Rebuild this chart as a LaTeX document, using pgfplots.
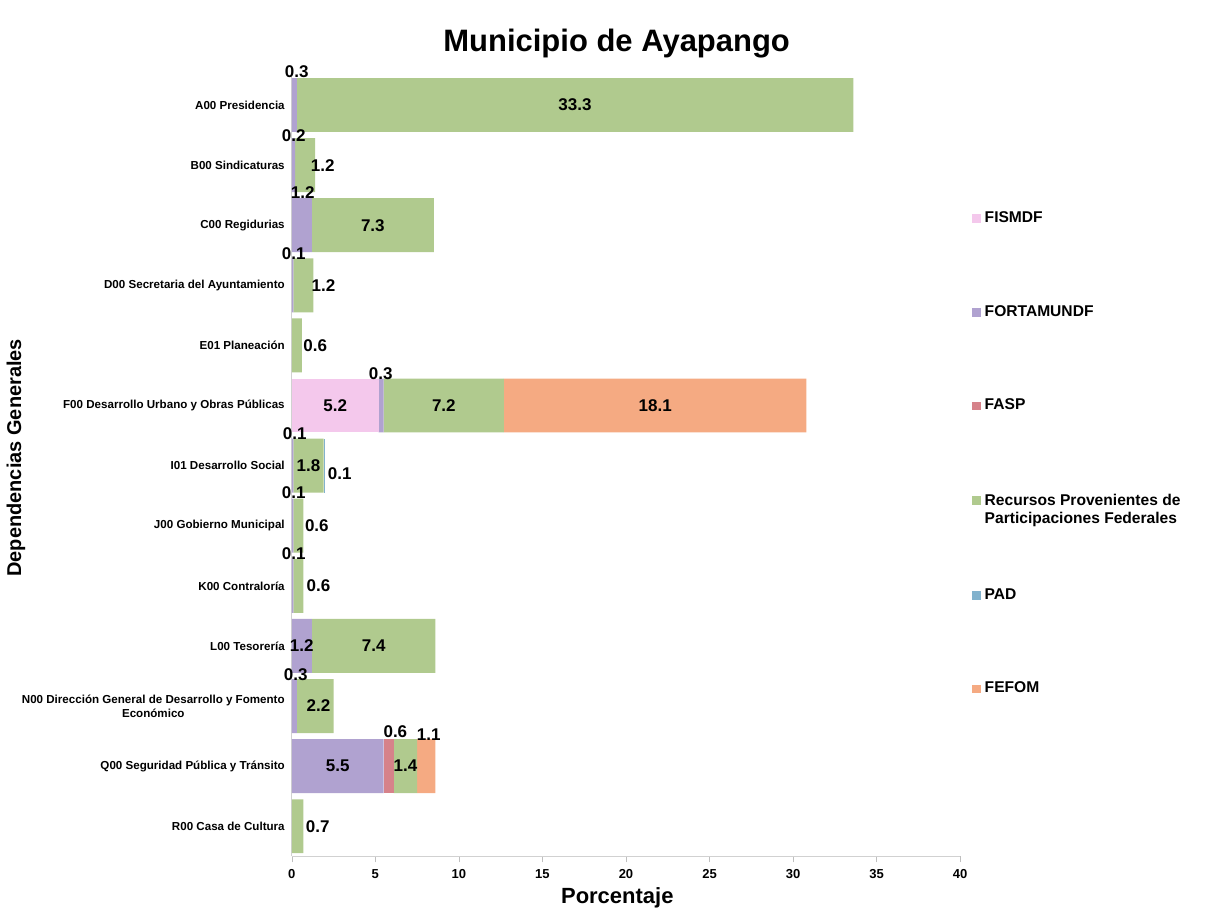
\documentclass[border=0pt]{standalone}
\usepackage{fontspec}
\setmainfont{Liberation Sans}
\usepackage{pgfplots}
\usepackage{pgfplotstable}
\pgfplotsset{compat=1.18}

\definecolor{fisPink}{RGB}{244,200,236}
\definecolor{fortPurple}{RGB}{176,162,208}
\definecolor{faspRed}{RGB}{214,130,138}
\definecolor{recGreen}{RGB}{176,202,142}
\definecolor{padBlue}{RGB}{130,178,205}
\definecolor{fefOrange}{RGB}{245,170,130}

% percentages per dependency (rows top to bottom)
\pgfplotstableread{
idx FIS FORT FASP REC PAD FEF
0  0   0.3 0   33.3 0   0
1  0   0.2 0   1.2  0   0
2  0   1.2 0   7.3  0   0
3  0   0.1 0   1.2  0   0
4  0   0   0   0.6  0   0
5  5.2 0.3 0   7.2  0   18.1
6  0   0.1 0   1.8  0.1 0
7  0   0.1 0   0.6  0   0
8  0   0.1 0   0.6  0   0
9  0   1.2 0   7.4  0   0
10 0   0.3 0   2.2  0   0
11 0   5.5 0.6 1.4  0   1.1
12 0   0   0   0.7  0   0
}\datatable

% value labels: position and text
\pgfplotstableread{
x y lab
16.95 0 33.3
1.85 1 1.2
4.85 2 7.3
1.9 3 1.2
1.4 4 0.6
2.6 5 5.2
9.1 5 7.2
21.75 5 18.1
1.0 6 1.8
2.87 6.14 0.1
1.5 7 0.6
1.6 8 0.6
0.6 9 1.2
4.9 9 7.4
1.6 10 2.2
2.75 11 5.5
6.8 11 1.4
1.55 12 0.7
0.3 -0.55 0.3
0.12 0.51 0.2
0.66 1.46 1.2
0.12 2.47 0.1
5.32 4.47 0.3
0.18 5.46 0.1
0.12 6.45 0.1
0.12 7.47 0.1
0.24 9.48 0.3
6.2 10.42 0.6
8.2 10.48 1.1
}\labtable

\begin{document}
\begin{tikzpicture}
\pgfplotsset{
  geom/.style={
    scale only axis, width=334.5pt, height=391pt,
    xmin=0, xmax=40, ymin=-0.5, ymax=12.5, y dir=reverse,
    at={(0,0)}, anchor=south west,
  },
}
\begin{axis}[
  geom, name=ax,
  xbar stacked,
  bar width=27pt,
  xtick={0,5,...,40},
  ytick={0,...,12},
  yticklabels={
    A00 Presidencia,
    B00 Sindicaturas,
    C00 Regidurias,
    D00 Secretaria del Ayuntamiento,
    E01 Planeación,
    F00 Desarrollo Urbano y Obras Públicas,
    I01 Desarrollo Social,
    J00 Gobierno Municipal,
    K00 Contraloría,
    L00 Tesorería,
    N00 Dirección General de Desarrollo y Fomento\\Económico,
    Q00 Seguridad Pública y Tránsito,
    R00 Casa de Cultura},
  yticklabel style={font=\fontsize{5.8}{7}\selectfont\bfseries, align=center},
  xticklabel style={font=\fontsize{6.5}{7}\selectfont\bfseries},
  /pgf/number format/assume math mode=true,
  axis x line*=bottom, axis y line*=left,
  axis line style={black!18},
  xtick align=outside, major tick length=3pt,
  xtick style={black!25},
  ytick style={draw=none},
  title={Municipio de Ayapango},
  title style={font=\fontsize{15.5}{18}\selectfont\bfseries, at={(0.486,1.0245)}, anchor=center},
  xlabel={Porcentaje},
  xlabel style={font=\fontsize{11}{13}\selectfont\bfseries, at={(0.487,-0.053)}, anchor=center},
  ylabel={Dependencias Generales},
  ylabel style={font=\fontsize{10}{12}\selectfont\bfseries, at={(-0.4126,0.51)}, anchor=center},
  legend image code/.code={\fill[#1] (0pt,-2.2pt) rectangle (4.4pt,2.2pt);},
  legend style={at={(1.008,0.836)}, anchor=north west, draw=none,
    font=\fontsize{7.8}{9}\selectfont\bfseries, row sep=36pt,
    cells={anchor=west, align=left}},
  clip=false,
]
\addplot[fill=fisPink, draw=none] table[x=FIS, y=idx]{\datatable};
\addlegendentry{FISMDF}
\addplot[fill=fortPurple, draw=none] table[x=FORT, y=idx]{\datatable};
\addlegendentry{FORTAMUNDF}
\addplot[fill=faspRed, draw=none] table[x=FASP, y=idx]{\datatable};
\addlegendentry{FASP}
\addplot[fill=recGreen, draw=none] table[x=REC, y=idx]{\datatable};
\addlegendentry{\raisebox{0pt}[\height][0pt]{\begin{tabular}[t]{@{}l@{}}Recursos Provenientes de\\Participaciones Federales\end{tabular}}}
\addplot[fill=padBlue, draw=none] table[x=PAD, y=idx]{\datatable};
\addlegendentry{PAD}
\addplot[fill=fefOrange, draw=none] table[x=FEF, y=idx]{\datatable};
\addlegendentry{FEFOM}
\end{axis}
\begin{axis}[geom, hide axis, clip=false]
\addplot[draw=none, mark=none, nodes near coords, point meta=explicit symbolic,
  every node near coord/.append style={anchor=center, inner sep=0pt,
    font=\fontsize{8.5}{9}\selectfont\bfseries}]
  table[x=x, y=y, meta=lab]{\labtable};
\end{axis}
\path (ax.south west) ++(-145.5pt,-26pt) rectangle ++(603.5pt,454.5pt);
\end{tikzpicture}
\end{document}
